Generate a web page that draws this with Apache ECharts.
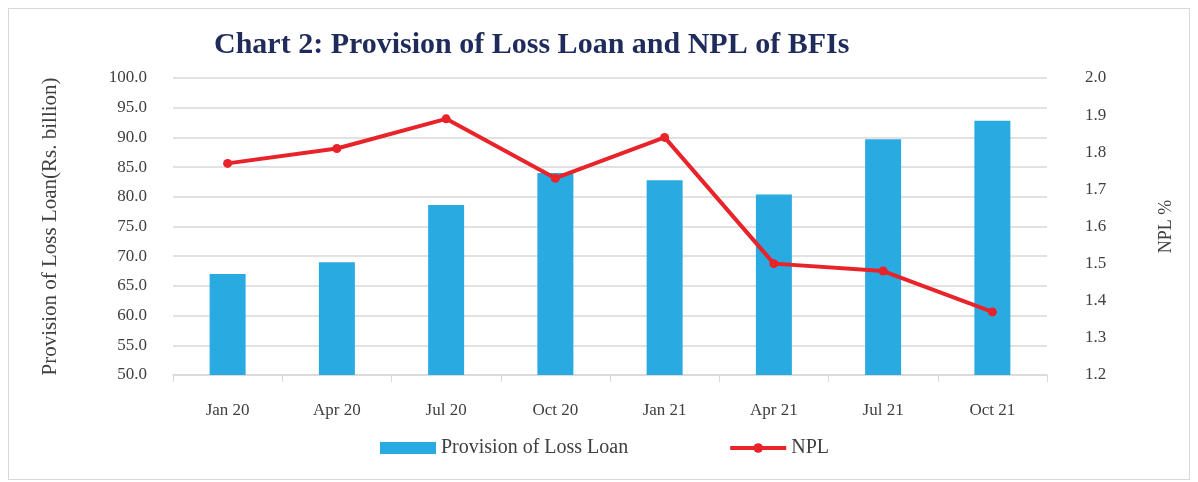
<!DOCTYPE html>
<html>
<head>
    <meta charset="utf-8">
    <title>Chart 2</title>
    <script src="https://cdn.jsdelivr.net/npm/echarts@6/dist/echarts.min.js"></script>
    <style>
        *{ padding: 0; margin: 0; }
        html, body{ width: 100%; height: 100%; background: #fff; }
        #main{
            position: absolute;
            left: 8px; top: 8px;
            width: 1180px; height: 470px;
            border: 1px solid #d9d9d9;
        }
    </style>
</head>
<body>
<div id="main"></div>
<script>
    // data
    var categories = ['Jan 20', 'Apr 20', 'Jul 20', 'Oct 20', 'Jan 21', 'Apr 21', 'Jul 21', 'Oct 21'];
    var provision = [67.0, 69.0, 78.6, 84.0, 82.8, 80.4, 89.7, 92.8];
    var npl = [1.77, 1.81, 1.89, 1.73, 1.84, 1.50, 1.48, 1.37];

    var serif = '"Liberation Serif", "DejaVu Serif", serif';
    var myChart = echarts.init(document.getElementById('main'));

    myChart.setOption({
        animation: false,
        textStyle: { fontFamily: serif },
        title: {
            text: 'Chart 2: Provision of Loss Loan and NPL of BFIs',
            left: 200, top: 16,
            textStyle: { fontFamily: serif, fontSize: 30, fontWeight: 'bold', color: '#1f2b5b' }
        },
        legend: {
            top: 424,
            left: 366,
            itemGap: 100,
            itemWidth: 56,
            itemHeight: 12,
            textStyle: { fontFamily: serif, fontSize: 20, color: '#404040' },
            data: [
                { name: 'Provision of Loss Loan', icon: 'rect' },
                { name: 'NPL', lineStyle: { width: 4 } }
            ]
        },
        grid: { left: 164, right: 142, top: 69, bottom: 104 },
        xAxis: {
            type: 'category',
            data: categories,
            axisLine: { lineStyle: { color: '#d9d9d9', width: 1.5 } },
            axisTick: { show: true, length: 7, lineStyle: { color: '#d9d9d9' } },
            axisLabel: { margin: 27, fontFamily: serif, fontSize: 17, color: '#404040' }
        },
        yAxis: [
            {
                type: 'value',
                min: 50, max: 100, interval: 5,
                name: 'Provision of Loss Loan(Rs. billion)',
                nameLocation: 'middle',
                nameGap: 112,
                nameTextStyle: { fontFamily: serif, fontSize: 21, color: '#404040' },
                axisLabel: {
                    fontFamily: serif, fontSize: 17, color: '#404040', margin: 26,
                    formatter: function (v) { return v.toFixed(1); }
                },
                axisLine: { show: false },
                axisTick: { show: false },
                splitLine: { lineStyle: { color: '#d9d9d9', width: 1.5 } }
            },
            {
                type: 'value',
                min: 1.2, max: 2.0, interval: 0.1,
                name: 'NPL %',
                nameLocation: 'middle',
                nameGap: 110,
                nameRotate: 90,
                nameTextStyle: { fontFamily: serif, fontSize: 18, color: '#404040' },
                axisLabel: {
                    fontFamily: serif, fontSize: 17, color: '#404040', margin: 38,
                    formatter: function (v) { return v.toFixed(1); }
                },
                axisLine: { show: false },
                axisTick: { show: false },
                splitLine: { show: false }
            }
        ],
        series: [
            {
                name: 'Provision of Loss Loan',
                type: 'bar',
                yAxisIndex: 0,
                data: provision,
                barWidth: 36,
                itemStyle: { color: '#29abe2' }
            },
            {
                name: 'NPL',
                type: 'line',
                yAxisIndex: 1,
                data: npl,
                symbol: 'circle',
                symbolSize: 9,
                lineStyle: { color: '#e8232a', width: 4 },
                itemStyle: { color: '#e8232a' }
            }
        ]
    });
</script>
</body>
</html>
